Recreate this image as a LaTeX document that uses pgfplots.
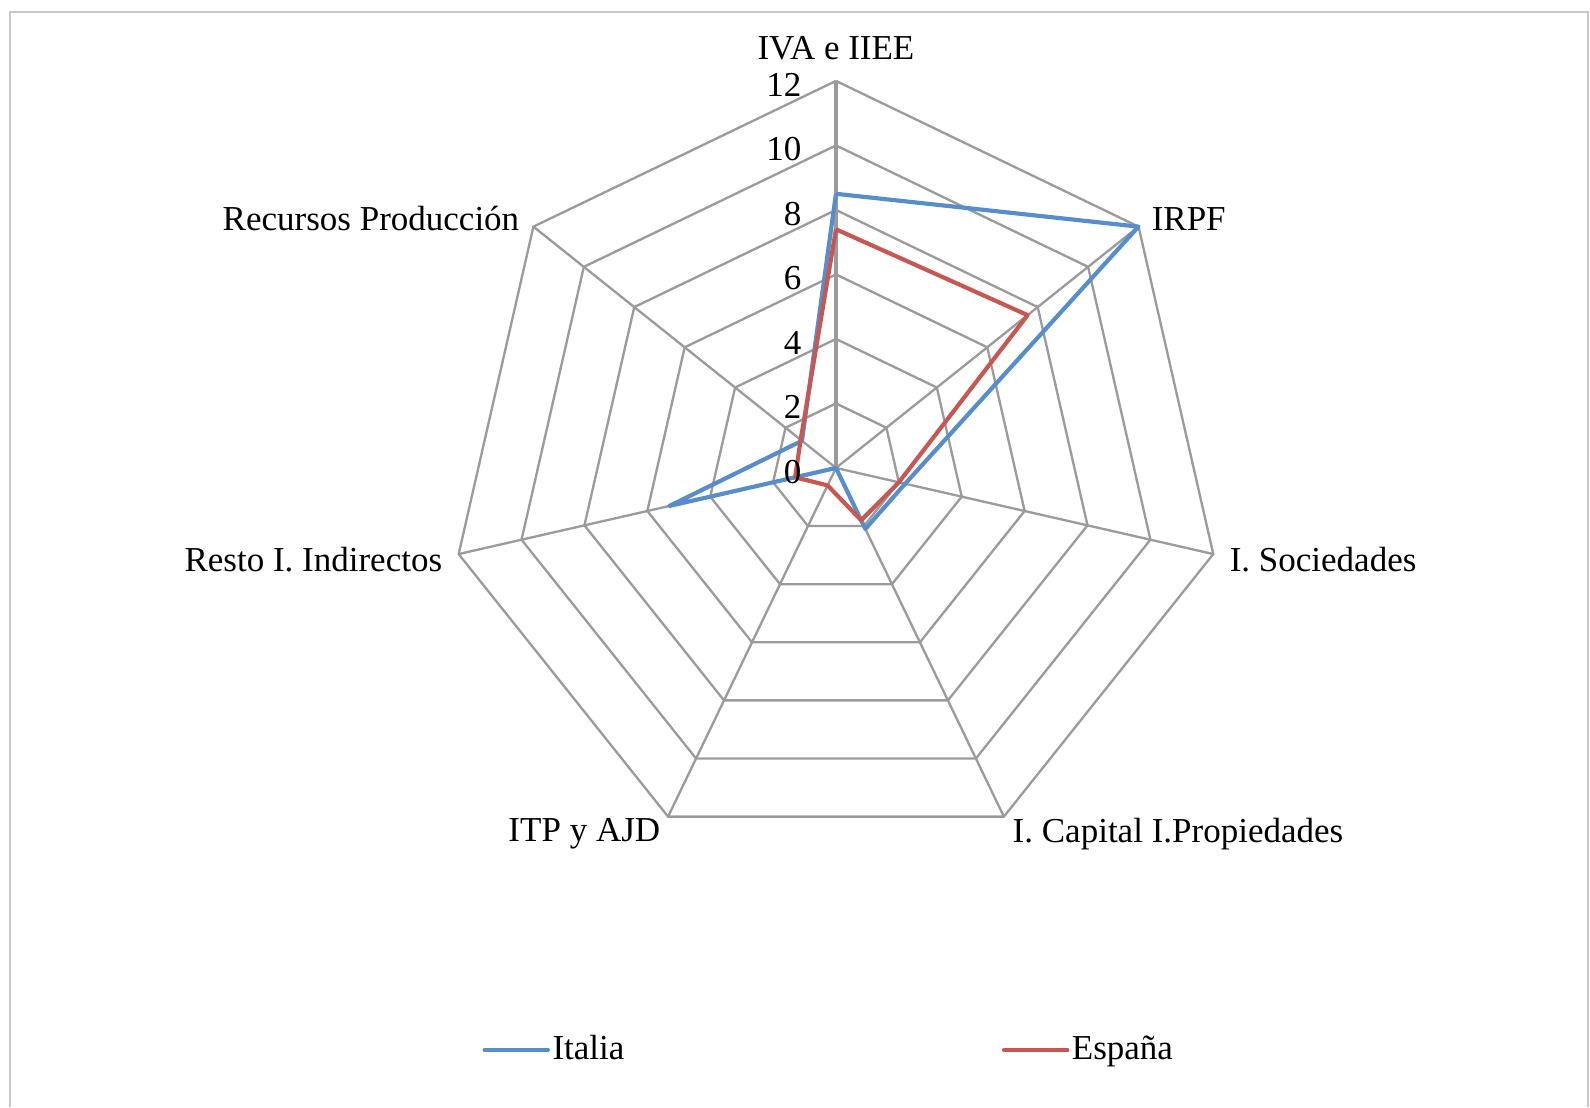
\documentclass[border=0pt]{standalone}
\usepackage{pgfplots}
\pgfplotsset{compat=1.18}
\usepackage{fontspec}
\setmainfont{Liberation Serif}
\definecolor{gridgray}{RGB}{155,155,155}
\definecolor{framegray}{RGB}{200,200,200}
\definecolor{itablue}{RGB}{88,141,204}
\definecolor{espred}{RGB}{200,86,81}
\begin{document}
\fontsize{10.5}{12.5}\selectfont
\begin{tikzpicture}
\begin{axis}[
  x=9.675pt, y=9.675pt,
  xmin=-25.92, xmax=23.38, ymin=-19.81, ymax=14.51,
  hide axis, clip=false,
  legend columns=2,
  legend style={draw=none, fill=none, at={(axis cs:-10.98,-18.05)}, anchor=west,
    inner sep=0pt, nodes={inner xsep=0.75pt},
    font=\fontsize{10.5}{12.5}\selectfont,
    /tikz/every even column/.append style={column sep=112.5pt}},
  legend image code/.code={\draw[#1, line cap=round] (0pt,0pt) -- (19pt,0pt);},
]
% bounding box of whole chart
\path (axis cs:-25.92,-19.81) rectangle (axis cs:23.38,14.51);
% outer frame
\draw[framegray, line width=0.6pt] (axis cs:-25.61,-19.81) -- (axis cs:-25.61,14.14) -- (axis cs:23.32,14.14) -- (axis cs:23.32,-19.81);
% heptagonal grid
\pgfplotsinvokeforeach{2,4,6,8,10,12}{
  \addplot[gridgray, line width=0.7pt, data cs=polar, forget plot] coordinates {(90,#1) (38.5714,#1) (-12.8571,#1) (-64.2857,#1) (-115.7143,#1) (-167.1429,#1) (141.4286,#1) (90,#1)};
}
\pgfplotsinvokeforeach{38.5714,-12.8571,-64.2857,-115.7143,-167.1429,141.4286}{
  \addplot[gridgray, line width=0.7pt, data cs=polar, forget plot] coordinates {(#1,0) (#1,12)};
}
\addplot[gridgray, line width=1.2pt, data cs=polar, forget plot] coordinates {(90,0) (90,12)};
% series
\addplot[itablue, line width=1.25pt, line join=round, data cs=polar] coordinates {
  (90,8.5) (38.5714,12) (-12.8571,2.2) (-64.2857,2.1) (-115.7143,0) (-167.1429,5.3) (141.4286,1.35) (90,8.5)};
\addlegendentry{Italia}
\addplot[espred, line width=1.25pt, line join=round, data cs=polar] coordinates {
  (90,7.4) (38.5714,7.6) (-12.8571,2.0) (-64.2857,1.8) (-115.7143,0.6) (-167.1429,1.3) (141.4286,1.4) (90,7.4)};
\addlegendentry{España}
% value labels
\node[anchor=east, inner sep=0pt] at (axis cs:-1.05,-0.12) {0};
\node[anchor=east, inner sep=0pt] at (axis cs:-1.05,1.88) {2};
\node[anchor=east, inner sep=0pt] at (axis cs:-1.05,3.88) {4};
\node[anchor=east, inner sep=0pt] at (axis cs:-1.05,5.88) {6};
\node[anchor=east, inner sep=0pt] at (axis cs:-1.05,7.88) {8};
\node[anchor=east, inner sep=0pt] at (axis cs:-1.05,9.88) {10};
\node[anchor=east, inner sep=0pt] at (axis cs:-1.05,11.88) {12};
% category labels
\node[anchor=center, inner sep=0pt] at (axis cs:0,13.02) {IVA e IIEE};
\node[anchor=west, inner sep=0pt] at (axis cs:9.77,7.72) {IRPF};
\node[anchor=west, inner sep=0pt] at (axis cs:12.19,-2.85) {I. Sociedades};
\node[anchor=west, inner sep=0pt] at (axis cs:5.46,-11.35) {I. Capital I.Propiedades};
\node[anchor=east, inner sep=0pt] at (axis cs:-5.43,-11.35) {ITP y AJD};
\node[anchor=east, inner sep=0pt] at (axis cs:-12.19,-2.85) {Resto I. Indirectos};
\node[anchor=east, inner sep=0pt] at (axis cs:-9.80,7.72) {Recursos Producción};
\end{axis}
\end{tikzpicture}
\end{document}
